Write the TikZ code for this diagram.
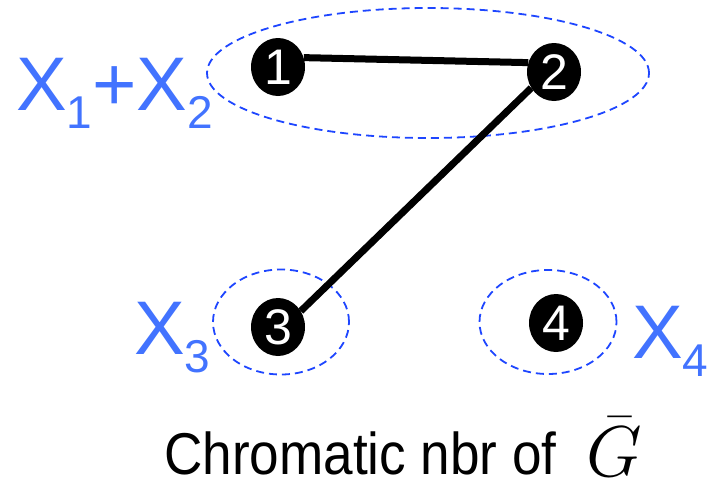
\RequirePackage{fix-cm}
\documentclass[tikz,border=0pt]{standalone}
\usepackage{fontspec}
\setmainfont{Liberation Sans}
\newfontfamily\narrow[FakeStretch=0.9]{Liberation Sans}
\usetikzlibrary{shapes.geometric}
\definecolor{lblblue}{RGB}{66,115,255}
\definecolor{dashblue}{RGB}{30,70,255}
\newcommand{\lsub}[1]{\raisebox{-18pt}{\fontsize{46}{46}\selectfont #1}}
\begin{document}
\begin{tikzpicture}[x=1pt,y=-1pt,
  vtx/.style={ellipse, fill=black, text=white, minimum width=54pt, minimum height=58pt, inner sep=0pt, font=\fontsize{50}{50}\selectfont},
  grp/.style={ellipse, draw=dashblue, line width=1.8pt, dash pattern=on 8pt off 5pt, inner sep=0pt},
  edgeline/.style={line width=7pt},
  lab/.style={text=lblblue, inner sep=0pt, anchor=base west, font=\fontsize{76}{76}\selectfont}]
\useasboundingbox (0,0) rectangle (708,482);
% groups
\node[grp, minimum width=442pt, minimum height=130pt] (g12) at (428,73) {};
\node[grp, minimum width=136pt, minimum height=105pt] (g3) at (281,322) {};
\node[grp, minimum width=137pt, minimum height=104pt] (g4) at (548,322) {};
% vertices
\node[vtx] (n1) at (278,67) {1};
\node[vtx] (n2) at (554,72) {2};
\node[vtx] (n3) at (278,327) {3};
\node[vtx] (n4) at (556,323) {4};
% edges
\draw[edgeline] (n1.20) -- (n2.160);
\draw[edgeline] (n2.215) -- (n3.35);
% labels
\node[lab] (l12) at (16,110) {X\lsub{1}+X\lsub{2}};
\node[lab] (l3) at (134,354) {X\lsub{3}};
\node[lab] (l4) at (632,358) {X\lsub{4}};
\node[anchor=base west, inner sep=0pt, font=\narrow\fontsize{59}{59}\selectfont] (cap) at (164,474) {Chromatic nbr of};
\node[anchor=base west, inner sep=0pt, font=\fontsize{72}{72}\selectfont] (gbar) at (586,476) {$\bar{G}$};
\end{tikzpicture}
\end{document}
